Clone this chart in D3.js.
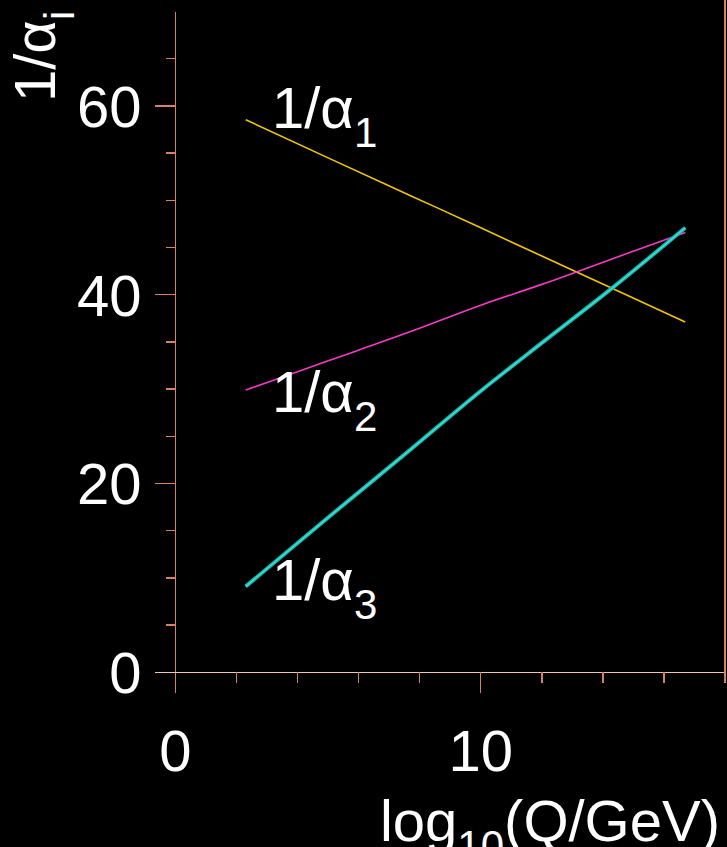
<!DOCTYPE html>
<html>
<head>
<meta charset="utf-8">
<script src="https://cdn.jsdelivr.net/npm/d3@7"></script>
<style>
  html, body { margin: 0; padding: 0; background: #000; }
  svg { display: block; }
  text { font-family: 'Liberation Sans', Arial, sans-serif; fill: #fff; }
</style>
</head>
<body>
<div id="chart"></div>
<script>
// log10(Q/GeV) sample points
const logQ = [2.3, 5, 7.7, 10, 12, 14.3, 16.7]
const invAlpha1 = [58.55, 54.5, 50.5, 47.1, 44.1, 40.7, 37.1]
const invAlpha2 = [29.9, 33.0, 36.1, 38.9, 41.1, 43.8, 46.6]
const invAlpha3 = [9.1, 16.4, 23.6, 29.8, 34.9, 40.7, 47.1]

const xTicks = [2, 4, 6, 8, 10, 12, 14, 16, 18]
const xLabels = [0, 10]
const yTicks = [5, 10, 15, 20, 25, 30, 35, 40, 45, 50, 55, 60, 65]
const yLabels = [0, 20, 40, 60]

const curves = [
  { name: '1', values: invAlpha1, color: '#f2c600', width: 1.6, labelY: 58.6 + 4.5 },
  { name: '2', values: invAlpha2, color: '#f23cc6', width: 1.6, labelY: 27.8 },
  { name: '3', values: invAlpha3, color: '#18b3a8', width: 4, inner: '#3fe3dc', labelY: 7.8 }
]

class CouplingChart {
  constructor (selector, options) {
    const {
      width = 727,
      height = 847,
      axisColor = '#d6826a',
      fontSize = 58,
      subSize = 42,
      subShift = 19
    } = options
    this.selector = selector
    this.options = { width, height, axisColor, fontSize, subSize, subShift }
    this.render()
  }

  render () {
    const { width, height, axisColor } = this.options
    const svg = d3.select(this.selector)
      .append('svg')
        .attr('width', width)
        .attr('height', height)
        .style('background', '#000')

    this.x = d3.scaleLinear().domain([0, 18]).range([175.5, 725])
    this.y = d3.scaleLinear().domain([0, 70]).range([672.3, 11.6])
    const x = this.x
    const y = this.y

    // frame: y axis, right edge, x axis
    const gAxis = svg.append('g')
      .attr('stroke', axisColor)
      .attr('stroke-width', 1.4)
      .attr('shape-rendering', 'crispEdges')

    gAxis.append('line')
      .attr('x1', x(0)).attr('x2', x(0))
      .attr('y1', y(70)).attr('y2', y(0) + 21)
    gAxis.append('line')
      .attr('x1', x(18)).attr('x2', x(18))
      .attr('y1', 0).attr('y2', y(0))
    gAxis.append('line')
      .attr('x1', x(0) - 21).attr('x2', x(18))
      .attr('y1', y(0)).attr('y2', y(0))
      .attr('stroke', '#f0c4b6')

    gAxis.selectAll('.xtick')
      .data(xTicks)
      .join('line')
        .attr('class', 'xtick')
        .attr('x1', d => x(d)).attr('x2', d => x(d))
        .attr('y1', y(0))
        .attr('y2', d => y(0) + (xLabels.includes(d) ? 21 : 11))

    gAxis.selectAll('.ytick')
      .data(yTicks)
      .join('line')
        .attr('class', 'ytick')
        .attr('y1', d => y(d)).attr('y2', d => y(d))
        .attr('x1', d => x(0) - (yLabels.includes(d) ? 21 : 10))
        .attr('x2', x(0))

    const fs = this.options.fontSize
    svg.selectAll('.xlabel')
      .data(xLabels)
      .join('text')
        .attr('class', 'xlabel')
        .attr('x', d => x(d))
        .attr('y', 771)
        .attr('text-anchor', 'middle')
        .style('font-size', fs + 'px')
        .text(d => d)

    svg.selectAll('.ylabel')
      .data(yLabels)
      .join('text')
        .attr('class', 'ylabel')
        .attr('x', x(0) - 34)
        .attr('y', d => y(d))
        .attr('dy', '0.36em')
        .attr('text-anchor', 'end')
        .style('font-size', fs + 'px')
        .text(d => d)

    // curves
    const line = d3.line()
      .x(d => x(d[0]))
      .y(d => y(d[1]))
      .curve(d3.curveMonotoneX)

    const gLines = svg.append('g').attr('fill', 'none')
    curves.forEach(c => {
      const pts = logQ.map((q, i) => [q, c.values[i]])
      gLines.append('path')
        .attr('d', line(pts))
        .attr('stroke', c.color)
        .attr('stroke-width', c.width)
      if (c.inner) {
        gLines.append('path')
          .attr('d', line(pts))
          .attr('stroke', c.inner)
          .attr('stroke-width', 1.3)
      }
    })

    // curve labels
    curves.forEach(c => {
      this.subText(svg, 272, c.name === '1' ? 128 : (c.name === '2' ? 412 : 600), '1/α', c.name, 'start')
    })

    // axis titles
    this.subText(svg, 0, 0, '1/α', 'i', 'start')
      .attr('transform', 'translate(55,102) rotate(-90)')
    this.subText(svg, 720, 841, 'log', '10', 'end', '(Q/GeV)')
  }

  subText (svg, px, py, main, sub, anchor, tail) {
    const { fontSize, subSize, subShift } = this.options
    const t = svg.append('text')
      .attr('x', px)
      .attr('y', py)
      .attr('text-anchor', anchor)
      .style('font-size', fontSize + 'px')
    t.append('tspan').text(main)
    t.append('tspan')
      .attr('dy', subShift)
      .style('font-size', subSize + 'px')
      .text(sub)
    if (tail) {
      t.append('tspan')
        .attr('dy', -subShift)
        .text(tail)
    }
    return t
  }
}

new CouplingChart('#chart', {})
</script>
</body>
</html>
